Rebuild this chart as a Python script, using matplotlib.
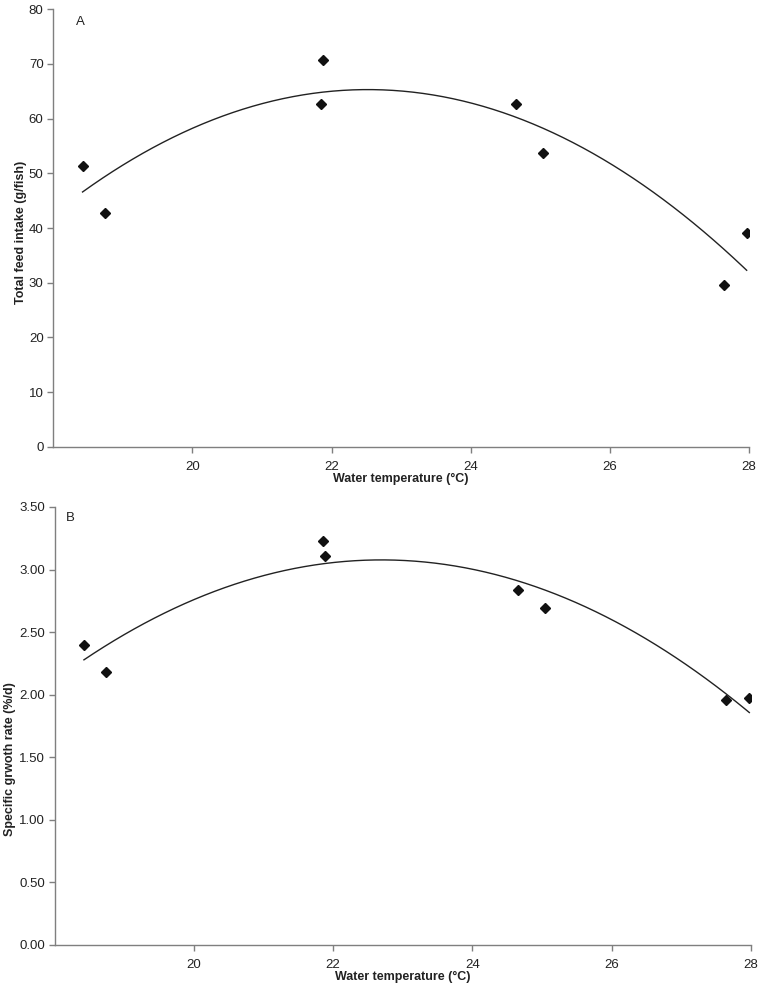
import numpy as np
import matplotlib
matplotlib.use("Agg")
import matplotlib.pyplot as plt

plt.rcParams['font.family'] = ['Liberation Sans', 'DejaVu Sans']

# Data
temp = [18.42, 18.74, 21.85, 21.88, 24.65, 25.04, 27.65, 27.97]
feed_intake = [51.4, 42.8, 62.7, 70.7, 62.6, 53.7, 29.6, 39.0]
temp_b = [18.42, 18.74, 21.85, 21.88, 24.65, 25.04, 27.65, 27.98]
sgr = [2.40, 2.18, 3.23, 3.11, 2.835, 2.69, 1.96, 1.97]

xticks = [20, 22, 24, 26, 28]
yticks_a = [0, 10, 20, 30, 40, 50, 60, 70, 80]
yticks_b = [0.0, 0.5, 1.0, 1.5, 2.0, 2.5, 3.0, 3.5]

fig = plt.figure(figsize=(7.62, 9.89), dpi=100)
axA = fig.add_axes([0.070, 0.5483, 0.9126, 0.4423])
axB = fig.add_axes([0.0718, 0.0445, 0.9134, 0.4429])

spine_col = '#7f7f7f'
text_col = '#222222'
fs_tick = 9.5
fs_lab = 9.0

def style(ax):
    for s in ['top', 'right']:
        ax.spines[s].set_visible(False)
    for s in ['left', 'bottom']:
        ax.spines[s].set_color(spine_col)
        ax.spines[s].set_linewidth(1.0)
    ax.tick_params(axis='both', direction='out', length=4, width=1.0,
                   color=spine_col, labelsize=fs_tick, labelcolor=text_col)
    ax.tick_params(axis='y', pad=3)
    ax.tick_params(axis='x', pad=6)
    ax.set_xlim(18, 28)
    ax.set_xticks(xticks)
    ax.set_xlabel('Water temperature (\u00b0C)', fontsize=fs_lab, fontweight='bold',
                  color=text_col, va='center')
    ax.xaxis.set_label_coords(0.50, -0.074)

def fit_curve(ax, x, y):
    c = np.polyfit(x, y, 2)
    xs = np.linspace(min(x), max(x), 200)
    ax.plot(xs, np.polyval(c, xs), color='#222222', lw=1.0, zorder=2)
    ax.plot(x, y, linestyle='none', marker='D', ms=5.5, color='#111111', zorder=3)

# Panel A
style(axA)
fit_curve(axA, temp, feed_intake)
axA.set_ylim(0, 80)
axA.set_yticks(yticks_a)
axA.set_ylabel('Total feed intake (g/fish)', fontsize=fs_lab, fontweight='bold',
               color=text_col, va='center')
axA.yaxis.set_label_coords(-0.047, 0.491)
axA.text(0.033, 0.971, 'A', transform=axA.transAxes, fontsize=fs_tick,
         color=text_col, va='center', ha='left')

# Panel B
style(axB)
fit_curve(axB, temp_b, sgr)
axB.set_ylim(0, 3.5)
axB.set_yticks(yticks_b)
axB.set_yticklabels([f'{v:.2f}' for v in yticks_b])
axB.set_ylabel('Specific grwoth rate (%/d)', fontsize=fs_lab, fontweight='bold',
               color=text_col, va='center')
axB.yaxis.set_label_coords(-0.064, 0.425)
axB.text(0.016, 0.974, 'B', transform=axB.transAxes, fontsize=fs_tick,
         color=text_col, va='center', ha='left')

fig.savefig('out.png', dpi=100)
